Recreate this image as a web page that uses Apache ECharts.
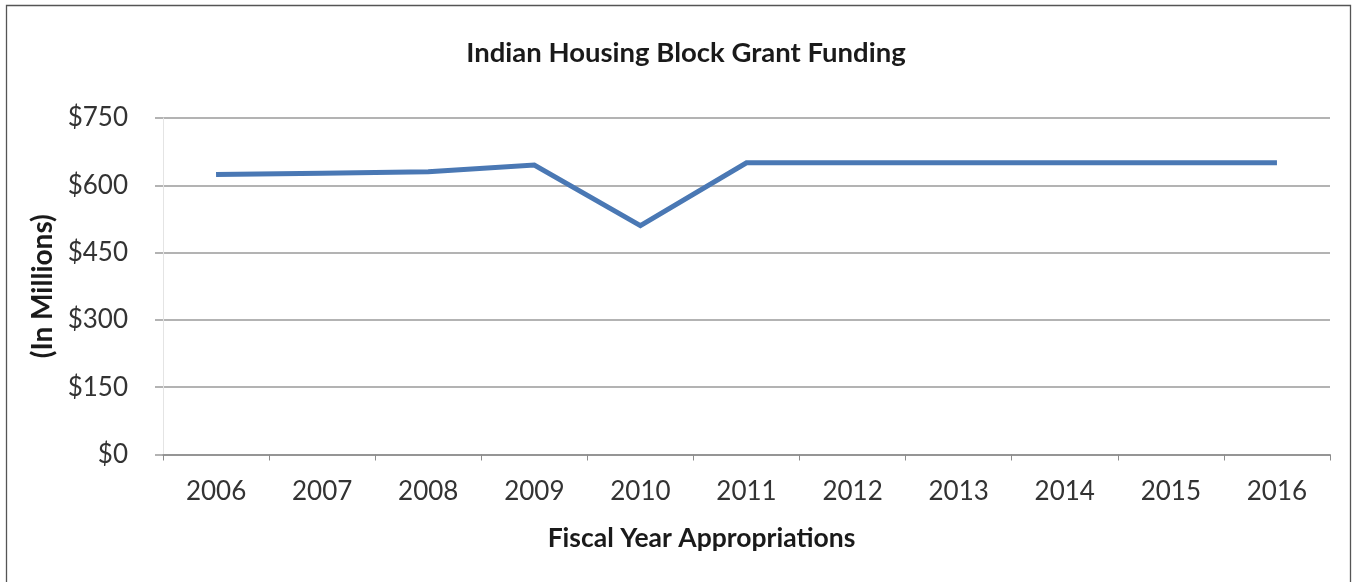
<!DOCTYPE html>
<html>
<head>
<meta charset="utf-8">
<script src="https://cdn.jsdelivr.net/npm/echarts@6/dist/echarts.min.js"></script>
<style>
  html, body { margin: 0; padding: 0; background: #fff; }
  #chart { width: 1352px; height: 582px; }
</style>
</head>
<body>
<div id="chart"></div>
<script>
// Fiscal years and appropriated funding (millions of dollars)
const years = ['2006', '2007', '2008', '2009', '2010', '2011', '2012', '2013', '2014', '2015', '2016'];
const funding = [624, 627, 630, 645, 510, 650, 650, 650, 650, 650, 650];
const yTicks = { min: 0, max: 750, step: 150 };

const font = 'Lato, "Open Sans", sans-serif';
const chart = echarts.init(document.getElementById('chart'));

chart.setOption({
  backgroundColor: '#ffffff',
  animation: false,
  title: {
    text: 'Indian Housing Block Grant Funding',
    left: 681,
    top: 34,
    textAlign: 'center',
    textStyle: { fontFamily: font, fontSize: 27.5, fontWeight: 'bold', color: '#1a1a1a' }
  },
  graphic: [{
    type: 'rect',
    shape: { x: 6.5, y: 5.5, width: 1344, height: 600 },
    style: { fill: 'none', stroke: '#555555', lineWidth: 1.3 },
    silent: true
  }],
  grid: { left: 163, right: 22, top: 118, bottom: 127.5 },
  xAxis: {
    type: 'category',
    data: years,
    name: 'Fiscal Year Appropriations',
    nameLocation: 'middle',
    nameGap: 70,
    nameTextStyle: { fontFamily: font, fontSize: 26.5, fontWeight: 'bold', color: '#1a1a1a', padding: [0, 90, 0, 0] },
    axisLine: { lineStyle: { color: '#8c8c8c', width: 1.5 } },
    axisTick: { show: true, length: 6, lineStyle: { color: '#8c8c8c' } },
    axisLabel: { margin: 24, fontFamily: font, fontSize: 26, color: '#333333' }
  },
  yAxis: {
    type: 'value',
    min: yTicks.min,
    max: yTicks.max,
    interval: yTicks.step,
    name: '(In Millions)',
    nameLocation: 'middle',
    nameGap: 106,
    nameTextStyle: { fontFamily: font, fontSize: 28, fontWeight: 'bold', color: '#1a1a1a' },
    axisLine: { show: true, lineStyle: { color: '#e4e4e4', width: 1 } },
    axisTick: { show: true, length: 8, lineStyle: { color: '#9a9a9a', width: 1.5 } },
    axisLabel: {
      margin: 35,
      fontFamily: font,
      fontSize: 26,
      color: '#333333',
      formatter: v => '$' + v
    },
    splitLine: { lineStyle: { color: '#9a9a9a', width: 1.5 } }
  },
  series: [{
    type: 'line',
    data: funding,
    symbol: 'none',
    lineStyle: { color: '#4a78b4', width: 5, join: 'miter' },
    itemStyle: { color: '#4a78b4' }
  }]
});
</script>
</body>
</html>
